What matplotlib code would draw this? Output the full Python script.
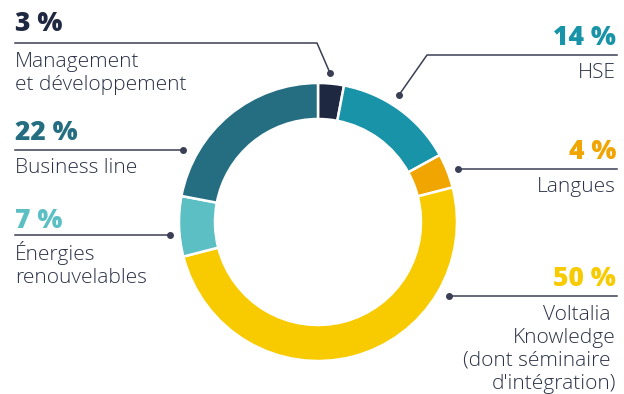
import matplotlib.pyplot as plt

# data
labels = ["Management\net développement", "HSE", "Langues",
          "Voltalia \nKnowledge\n(dont séminaire \nd'intégration)",
          "Énergies\nrenouvelables", "Business line"]
values = [3, 14, 4, 50, 7, 22]
pct_text = ["3 %", "14 %", "4 %", "50 %", "7 %", "22 %"]
colors = ["#1e2840", "#1993a8", "#f0a500", "#f7cb00", "#5bbfc4", "#256e82"]

W, H = 624, 394
fig = plt.figure(figsize=(W / 100, H / 100), dpi=100)
ax = fig.add_axes([0, 0, 1, 1])
ax.set_xlim(0, W)
ax.set_ylim(0, H)
ax.set_aspect('equal')
ax.axis('off')

cx, cy, r = 318, H - 222, 139
ax.pie(values, colors=colors, startangle=90, counterclock=False,
       center=(cx, cy), radius=r,
       wedgeprops=dict(width=36, edgecolor='white', linewidth=1.8))
ax.set_xlim(0, W)
ax.set_ylim(0, H)

def Y(y):
    return H - y

font = "Open Sans"
txt_col = "#2b3247"
line_col = "#3a3f55"

# layout per label: side, pct baseline, line y, line x-end (outer), elbow x, dot (x, y), desc baseline
layout = [
    ("left", 31, 43, 15, 317, (330, 73), 67),
    ("right", 45, 55, 617, 427, (399, 95), 78),
    ("right", 159, 169, 617, 458, (458, 169), 192),
    ("right", 286, 296, 617, 449, (449, 296), 320),
    ("left", 228, 235, 15, 170, (170, 235), 260),
    ("left", 140, 150, 15, 183, (183, 150), 173),
]

for i, (side, pb, ly, lx0, lx1, dot, db) in enumerate(layout):
    ha = 'left' if side == 'left' else 'right'
    tx = 15 if side == 'left' else 616
    ax.text(tx, Y(pb), pct_text[i], color=colors[i], fontsize=19,
            fontweight='heavy', family=font, ha=ha, va='baseline')
    ax.plot([lx0, lx1, dot[0]], [Y(ly), Y(ly), Y(dot[1])], color=line_col, lw=1.1)
    ax.plot(dot[0], Y(dot[1]), 'o', color=line_col, ms=4)
    for k, line in enumerate(labels[i].split("\n")):
        ax.text(tx, Y(db + k * 23), line, color=txt_col, fontsize=15,
                family=font, fontweight='light', ha=ha, va='baseline')

fig.savefig("out.png", dpi=100)
